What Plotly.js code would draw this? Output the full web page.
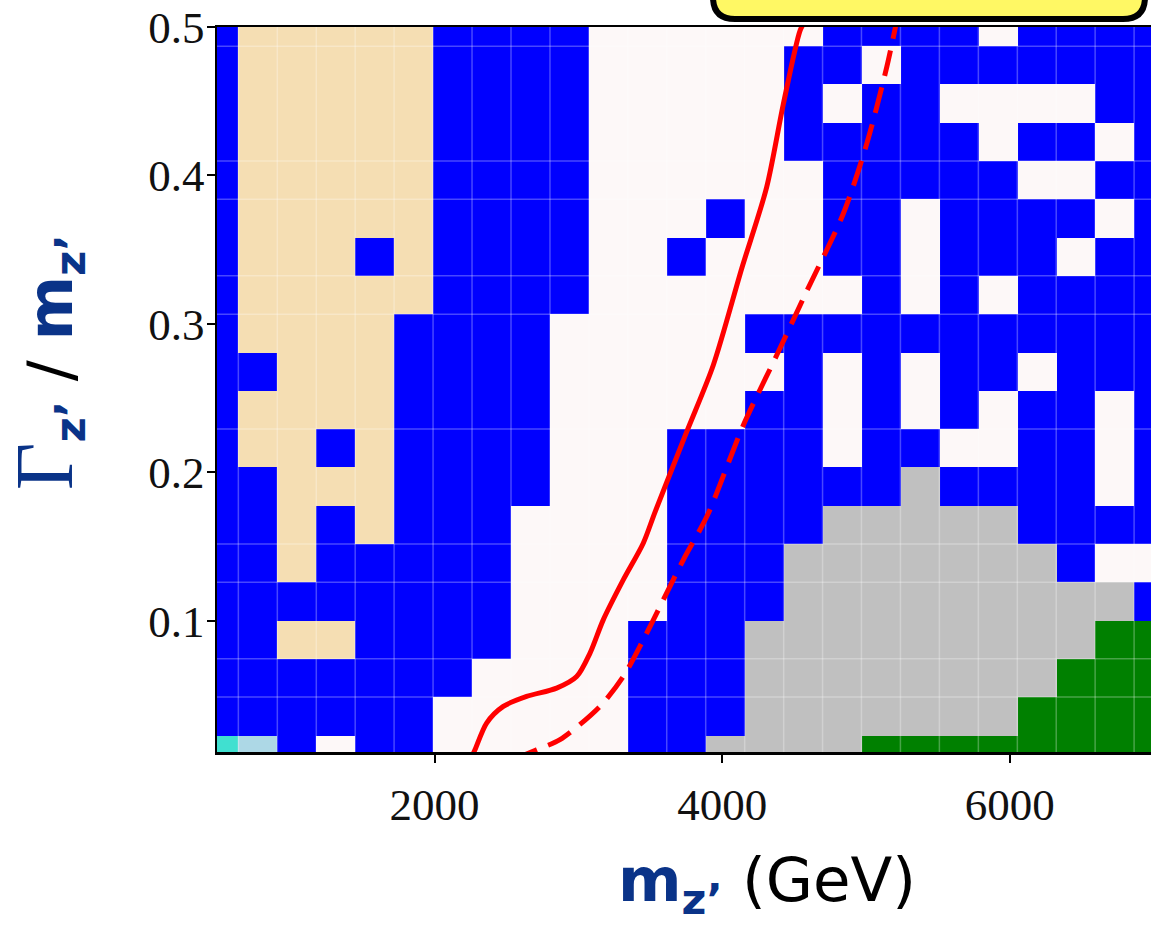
<!DOCTYPE html>
<html>
<head>
<meta charset="utf-8">
<script src="https://cdn.plot.ly/plotly-3.0.1.min.js"></script>
<style>html,body{margin:0;padding:0;overflow:hidden;background:#ffffff}</style>
</head>
<body>
<div id="chart" style="width:1151px;height:928px"></div>
<script>
// Grid of Z' masses (GeV), column centres
const massGeV = [500, 771, 1042, 1313, 1583, 1854, 2125, 2396, 2667, 2938, 3208, 3479, 3750,
                 4021, 4292, 4563, 4833, 5104, 5375, 5646, 5917, 6188, 6458, 6729, 7000];
// Grid of width/mass ratios, row centres (bottom to top)
const widthRatio = [0.01, 0.0358, 0.0616, 0.0874, 0.1132, 0.1389, 0.1647, 0.1905, 0.2163, 0.2421,
                    0.2679, 0.2937, 0.3195, 0.3453, 0.3711, 0.3968, 0.4226, 0.4484, 0.4742, 0.5];
// Region category of each cell, one string per row (bottom row first)
// B blue, T tan, W white, G grey, N green, C turquoise, L light blue
const regionRows = [
  "CLBWBBWWWWWBBGGGGNNNNNNNN",
  "BBBBBBWWWWWBBBGGGGGGGNNNN",
  "BBBBBBBWWWWBBBGGGGGGGGNNN",
  "BBTTBBBBWWWBBBGGGGGGGGGNN",
  "BBBBBBBBWWWWBBBGGGGGGGGGB",
  "BBTBBBBBWWWWBBBGGGGGGGBWW",
  "BBTBTBBBWWWWBBBBGGGGGBBBB",
  "BBTTTBBBBWWWBBBBBBGBBBBWB",
  "BTTBTBBBBWWWBBBBWBBWWBBWB",
  "BTTTTBBBBWWWWWBBWBWBWBBWB",
  "BBTTTBBBBWWWWWWBWBWBBWBBB",
  "BTTTTBBBBWWWWWBBBBBBBBBBB",
  "BTTTTTBBBBWWWWWWWBWBWBBBB",
  "BTTTBTBBBBWWBWWWBBWBBBWBB",
  "BTTTTTBBBBWWWBWWBBWBBBBWB",
  "BTTTTTBBBBWWWWWWBBBBBWWBB",
  "BTTTTTBBBBWWWWWBBBBBWBBWB",
  "BTTTTTBBBBWWWWWBWBBWWWWBB",
  "BTTTTTBBBBWWWWWBBWBBBBBBB",
  "BTTTTTBBBBWWWWWWBBBBWBBBB"
];
const categoryCodes  = ["B", "T", "W", "G", "N", "C", "L"];
const categoryColors = ["#0000ff", "#f5deb3", "#fdf8f8", "#c0c0c0", "#008000", "#40e0d0", "#add8e6"];

// Observed (solid) and expected (dashed) limit curves
const obsMass  = [2249, 2281, 2362, 2478, 2640, 2849, 2988, 3081, 3173, 3312, 3451, 3533, 3753, 3938, 4138, 4309, 4425, 4541, 4576];
const obsRatio = [0.0065, 0.0132, 0.0312, 0.0424, 0.0491, 0.0547, 0.0625, 0.0783, 0.1007, 0.1276, 0.1523, 0.1733, 0.2273, 0.2722, 0.338, 0.392, 0.448, 0.4974, 0.504];
const expMass  = [2545, 2710, 2872, 3150, 3312, 3451, 3590, 3729, 3898, 4147, 4379, 4585, 4842, 5005, 5144, 5202, 5222];
const expRatio = [0.0065, 0.0132, 0.02, 0.0424, 0.0625, 0.0872, 0.1141, 0.141, 0.1713, 0.2318, 0.2789, 0.3215, 0.3742, 0.4213, 0.4728, 0.4986, 0.5075];

const xTickVals = [2000, 4000, 6000];
const xTickText = ["2000", "4000", "6000"];
const yTickVals = [0.1, 0.2, 0.3, 0.4, 0.5];
const yTickText = ["0.1", "0.2", "0.3", "0.4", "0.5"];
// row boundaries (between row i and i+1) where faint rendering seams show
const seamRowBoundaries = [1, 2, 4, 5, 8, 11, 12, 14, 15, 18];

const xRange = [487, 6982];
const yRange = [0.0117, 0.5];

const z = regionRows.map(r => r.split("").map(c => categoryCodes.indexOf(c)));
const n = categoryCodes.length;
const colorscale = [];
categoryColors.forEach((c, k) => { colorscale.push([k / n, c]); colorscale.push([(k + 1) / n, c]); });

// seams at cell borders
const seamX = [], seamY = [];
for (let k = 0; k < massGeV.length - 1; k++) {
  const b = (massGeV[k] + massGeV[k + 1]) / 2;
  seamX.push(b, b, null); seamY.push(0, 0.6, null);
}
seamRowBoundaries.forEach(i => {
  const b = (widthRatio[i] + widthRatio[i + 1]) / 2;
  seamX.push(0, 8000, null); seamY.push(b, b, null);
});

const traces = [
  {type: "heatmap", x: massGeV, y: widthRatio, z: z, colorscale: colorscale,
   zmin: -0.5, zmax: n - 0.5, showscale: false, zsmooth: false, hoverinfo: "skip"},
  {type: "scatter", mode: "lines", x: seamX, y: seamY, connectgaps: false,
   line: {color: "rgba(255,255,255,0.28)", width: 1.5}, hoverinfo: "skip", showlegend: false},
  {type: "scatter", mode: "lines", x: obsMass, y: obsRatio,
   line: {color: "#ff0000", width: 5, shape: "spline", smoothing: 0.8}, showlegend: false},
  {type: "scatter", mode: "lines", x: expMass, y: expRatio,
   line: {color: "#ff0000", width: 5, dash: "26px,12px", shape: "spline", smoothing: 0.8}, showlegend: false}
];

// rounded yellow box (cropped at top of the image)
const L = 217, T = 27, W = 934, H = 725;
const px = v => (v - L) / W, py = v => 1 - (v - T) / H;
const xl = px(713), xr = px(1145), yb = py(19), yt = py(-40);
const rx = 22 / W, ry = 22 / H;
const boxPath = `M ${xl},${yt} L ${xl},${yb + ry} Q ${xl},${yb} ${xl + rx},${yb} L ${xr - rx},${yb} Q ${xr},${yb} ${xr},${yb + ry} L ${xr},${yt} Z`;

const navy = "#0a3388";
const layout = {
  width: 1151, height: 928,
  margin: {l: 217, r: 0, t: 27, b: 176, pad: 0},
  paper_bgcolor: "#ffffff", plot_bgcolor: "#ffffff",
  showlegend: false, hovermode: false,
  xaxis: {range: xRange, showgrid: false, zeroline: false, showline: true, linecolor: "#000", linewidth: 2.5,
          mirror: true, ticks: "outside", ticklen: 8, tickwidth: 2, tickcolor: "#000",
          tickvals: xTickVals, ticktext: xTickText, ticklabelstandoff: 3,
          tickfont: {family: "Liberation Serif, serif", size: 45, color: "#111"}},
  yaxis: {range: yRange, showgrid: false, zeroline: false, showline: true, linecolor: "#000", linewidth: 2.5,
          ticks: "outside", ticklen: 8, tickwidth: 2, tickcolor: "#000",
          tickvals: yTickVals, ticktext: yTickText, ticklabelstandoff: -7,
          tickfont: {family: "Liberation Serif, serif", size: 45, color: "#111"}},
  shapes: [{type: "path", xref: "paper", yref: "paper", path: boxPath,
            fillcolor: "#fff864", line: {color: "#000", width: 6}, layer: "above"}],
  annotations: [
    {xref: "paper", yref: "paper", x: px(767), y: py(884), xanchor: "center", yanchor: "middle", showarrow: false,
     text: `<span style="color:${navy}"><b>m</b><sub><b>z’</b></sub></span> (GeV)`,
     font: {family: "DejaVu Sans, sans-serif", size: 61, color: "#000"}},
    {xref: "paper", yref: "paper", x: px(47), y: py(362), xanchor: "center", yanchor: "middle", showarrow: false,
     textangle: -90,
     text: `<span style="color:${navy};font-family:'Liberation Serif';font-size:82px">Γ</span><span style="color:${navy}"><sub><b>z’</b></sub></span> / <span style="color:${navy}"><b>m</b><sub><b>z’</b></sub></span>`,
     font: {family: "DejaVu Sans, sans-serif", size: 62, color: "#000"}}
  ]
};

Plotly.newPlot("chart", traces, layout, {staticPlot: true, displayModeBar: false});
</script>
</body>
</html>
